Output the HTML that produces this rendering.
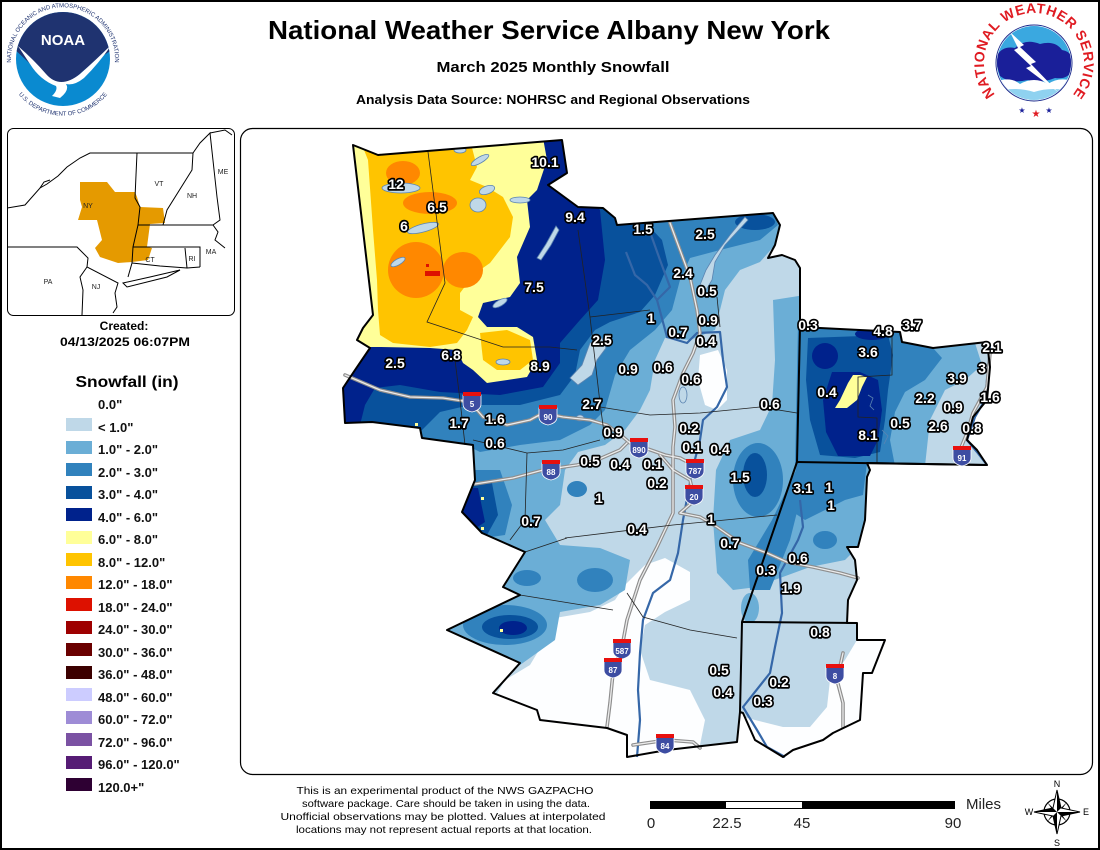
<!DOCTYPE html>
<html><head><meta charset="utf-8">
<style>
html,body{margin:0;padding:0;background:#fff;}
svg{display:block;}
text{font-family:"Liberation Sans",Arial,sans-serif;}
.lab{font-weight:bold;font-size:14px;fill:#fff;stroke:#000;stroke-width:3.4px;paint-order:stroke;stroke-linejoin:round;text-anchor:middle;}
.leg{font-weight:bold;font-size:13px;fill:#111;}
.sh{font-weight:bold;font-size:8px;fill:#fff;text-anchor:middle;}
.ins{font-size:7px;fill:#222;text-anchor:middle;}
</style></head><body>
<svg width="1100" height="850" viewBox="0 0 1100 850" xmlns="http://www.w3.org/2000/svg">
<defs>
<clipPath id="co"><path d="M353,145 L378,155 L562,140 L567,173 L548,185 L578,207 L603,208 L615,218 L617,225 L773,213 L780,225 L775,245 L768,258 L782,255 L795,260 L800,268 L800,327 L900,332 L902,342 L933,348 L987,342 L990,367 L987,400 L973,417 L967,440 L977,450 L987,465 L867,463 L870,470 L867,477 L865,520 L858,547 L847,547 L855,560 L857,580 L848,600 L847,623 L857,623 L857,640 L885,640 L872,673 L863,673 L860,720 L833,733 L823,740 L793,750 L783,757 L755,740 L743,713 L740,712 L737,742 L667,750 L627,757 L627,735 L607,728 L540,720 L537,710 L493,693 L520,663 L447,630 L520,595 L503,587 L525,552 L482,533 L462,512 L475,480 L473,445 L422,438 L420,428 L372,422 L345,423 L343,388 L355,370 L370,348 L357,340 L363,328 L373,315 Z"/></clipPath>
<clipPath id="ci"><rect x="8" y="129" width="226" height="186" rx="6"/></clipPath>
</defs>
<rect x="0" y="0" width="1100" height="850" fill="#fff"/>
<rect x="1" y="1" width="1098" height="848" fill="none" stroke="#000" stroke-width="2"/>

<!-- Header -->
<text x="549" y="39" font-size="26" font-weight="bold" text-anchor="middle" textLength="562" lengthAdjust="spacingAndGlyphs">National Weather Service Albany New York</text>
<text x="553" y="72" font-size="14.5" font-weight="bold" text-anchor="middle" textLength="233" lengthAdjust="spacingAndGlyphs">March 2025 Monthly Snowfall</text>
<text x="553" y="104" font-size="12.5" font-weight="bold" text-anchor="middle" textLength="394" lengthAdjust="spacingAndGlyphs">Analysis Data Source: NOHRSC and Regional Observations</text>

<!-- NOAA logo -->
<g>
<circle cx="63" cy="60" r="57" fill="#fff"/>
<clipPath id="cn"><circle cx="63" cy="59" r="47"/></clipPath>
<g clip-path="url(#cn)">
<rect x="10" y="5" width="110" height="110" fill="#0a8ad0"/>
<path d="M10,5 L120,5 L120,45 Q98,58 82,72 Q62,92 42,75 Q28,62 10,45 Z" fill="#1f3370"/>
<path d="M18,46 Q34,60 46,74 Q60,90 80,74 Q98,58 112,44 Q100,62 84,78 Q74,86 66,84 Q70,90 60,98 L52,96 Q58,90 56,86 Q40,80 30,64 Z" fill="#fff"/>
</g>
<text x="63" y="45" font-size="15" font-weight="bold" fill="#fff" text-anchor="middle">NOAA</text>
<path id="nt" d="M18.4,86 A52,52 0 1 1 107.6,86" fill="none"/>
<text font-size="6" fill="#1f3370"><textPath href="#nt" startOffset="50%" text-anchor="middle">NATIONAL OCEANIC AND ATMOSPHERIC ADMINISTRATION</textPath></text>
<path id="nb" d="M11,82 A57,57 0 0 0 115,82" fill="none"/>
<text font-size="6" fill="#1f3370"><textPath href="#nb" startOffset="50%" text-anchor="middle">U.S. DEPARTMENT OF COMMERCE</textPath></text>
</g>

<!-- NWS logo -->
<g>
<clipPath id="cw"><circle cx="1034" cy="63" r="37"/></clipPath>
<circle cx="1034" cy="63" r="38" fill="#fff" stroke="#1b2a8c" stroke-width="1"/>
<g clip-path="url(#cw)">
<rect x="995" y="25" width="80" height="80" fill="#3aa8e0"/>
<path d="M995,60 Q1000,45 1015,48 Q1025,38 1040,44 Q1055,40 1062,50 Q1075,52 1072,68 Q1070,80 1055,78 Q1040,84 1028,80 Q1010,84 1000,76 Z" fill="#1a1f99"/>
<path d="M995,82 Q1010,76 1020,84 Q1034,76 1048,84 Q1060,76 1075,82 L1075,105 L995,105 Z" fill="#fff"/>
<path d="M995,92 Q1015,86 1034,92 Q1052,86 1075,92 L1075,105 L995,105 Z" fill="#8fd2f0"/>
<path d="M1010,32 L1024,45 L1020,47 L1036,62 L1031,64 L1058,92 L1026,68 L1031,66 L1014,50 L1018,48 Z" fill="#fff"/>
</g>
<path id="wt" d="M1004,103 A50,50 0 1 1 1064,103" fill="none"/>
<text font-size="14" font-weight="bold" fill="#e01b22"><textPath href="#wt" startOffset="50%" text-anchor="middle" textLength="225" lengthAdjust="spacing">NATIONAL WEATHER SERVICE</textPath></text>
<text x="1022" y="113" font-size="8" fill="#1a1f99" text-anchor="middle">★</text>
<text x="1036" y="117" font-size="10" fill="#e01b22" text-anchor="middle">★</text>
<text x="1049" y="113" font-size="8" fill="#1a1f99" text-anchor="middle">★</text>
</g>

<!-- Inset map -->
<rect x="7.5" y="128.5" width="227" height="187" rx="6" fill="#fff" stroke="#000" stroke-width="1"/>
<g clip-path="url(#ci)">
<path d="M80,182 L107,182 L115,192 L135,192 L137,197 L140,207 L163,208 L165,223 L150,224 L147,247 L152,248 L148,260 L132,262 L118,263 L100,257 L95,248 L102,240 L97,220 L78,220 L82,207 L80,200 Z" fill="#e59a00"/>
<g fill="none" stroke="#000" stroke-width="1">
<path d="M7,208 L25,205 L40,188 L47,184 L58,176 L67,167 L80,158 L90,153 L137,153"/>
<path d="M137,153 L136,175 L135,198 L140,207 L138,225 L133,247 L132,263 L128,277"/>
<path d="M7,247 L77,247 L88,258 L87,267 L118,283 L115,293 L117,307 L113,313"/>
<path d="M87,267 L80,277 L83,290 L82,315"/>
<path d="M137,153 L193,153 L192,170 L167,210 L163,225"/>
<path d="M138,225 L213,225 L218,232 L215,240 L225,248"/>
<path d="M133,247 L200,247 L200,267"/>
<path d="M132,263 L160,266 L187,268 L200,267"/>
<path d="M185,248 L187,268"/>
<path d="M193,153 L200,143 L210,133 L217,197 L220,220 L213,225"/>
<path d="M210,133 L225,130 L232,135"/>
<path d="M123,283 L150,277 L180,270 L167,277 L127,287 Z" fill="#fff"/>
<path d="M40,188 L44,182 L50,180"/>
</g>
<text x="88" y="208" class="ins">NY</text>
<text x="159" y="186" class="ins">VT</text>
<text x="192" y="198" class="ins">NH</text>
<text x="223" y="174" class="ins">ME</text>
<text x="211" y="254" class="ins">MA</text>
<text x="192" y="261" class="ins">RI</text>
<text x="150" y="262" class="ins">CT</text>
<text x="48" y="284" class="ins">PA</text>
<text x="96" y="289" class="ins">NJ</text>
</g>
<text x="124" y="330" font-size="12" font-weight="bold" text-anchor="middle">Created:</text>
<text x="125" y="346" font-size="12" font-weight="bold" text-anchor="middle" textLength="130" lengthAdjust="spacingAndGlyphs">04/13/2025 06:07PM</text>

<!-- Legend -->
<text x="127" y="387" font-size="16" font-weight="bold" text-anchor="middle" textLength="103" lengthAdjust="spacingAndGlyphs">Snowfall (in)</text>
<g class="leg">
<text x="98" y="409">0.0"</text>
<rect x="66" y="418" width="26" height="13" fill="#bfd8e8"/><text x="98" y="432">&lt; 1.0"</text>
<rect x="66" y="441" width="26" height="13" fill="#6baed6"/><text x="98" y="454">1.0" - 2.0"</text>
<rect x="66" y="463" width="26" height="13" fill="#3182bd"/><text x="98" y="477">2.0" - 3.0"</text>
<rect x="66" y="486" width="26" height="13" fill="#08519c"/><text x="98" y="499">3.0" - 4.0"</text>
<rect x="66" y="508" width="26" height="13" fill="#00228c"/><text x="98" y="522">4.0" - 6.0"</text>
<rect x="66" y="531" width="26" height="13" fill="#ffff99"/><text x="98" y="544">6.0" - 8.0"</text>
<rect x="66" y="553" width="26" height="13" fill="#ffc400"/><text x="98" y="567">8.0" - 12.0"</text>
<rect x="66" y="576" width="26" height="13" fill="#ff8800"/><text x="98" y="589">12.0" - 18.0"</text>
<rect x="66" y="598" width="26" height="13" fill="#dd1100"/><text x="98" y="612">18.0" - 24.0"</text>
<rect x="66" y="621" width="26" height="13" fill="#9e0000"/><text x="98" y="634">24.0" - 30.0"</text>
<rect x="66" y="643" width="26" height="13" fill="#6a0000"/><text x="98" y="657">30.0" - 36.0"</text>
<rect x="66" y="666" width="26" height="13" fill="#3c0000"/><text x="98" y="679">36.0" - 48.0"</text>
<rect x="66" y="688" width="26" height="13" fill="#ccccff"/><text x="98" y="702">48.0" - 60.0"</text>
<rect x="66" y="711" width="26" height="13" fill="#9e8cd6"/><text x="98" y="724">60.0" - 72.0"</text>
<rect x="66" y="733" width="26" height="13" fill="#7b52a3"/><text x="98" y="747">72.0" - 96.0"</text>
<rect x="66" y="756" width="26" height="13" fill="#561c75"/><text x="98" y="769">96.0" - 120.0"</text>
<rect x="66" y="778" width="26" height="13" fill="#2e0033"/><text x="98" y="792">120.0+"</text>
</g>

<!-- Main frame -->
<rect x="240.5" y="128.5" width="852" height="646" rx="12" fill="#fff" stroke="#000" stroke-width="1.2"/>

<!-- Map fill layers -->
<g clip-path="url(#co)">
<rect x="330" y="130" width="680" height="640" fill="#bfd8e8"/>
<!-- white (0) -->
<g fill="#fdfeff">
<path d="M555,618 L590,612 L615,600 L625,585 L645,565 L665,558 L690,572 L690,600 L665,612 L645,625 L640,650 L650,680 L690,690 L705,720 L700,745 L627,757 L627,735 L607,728 L540,722 L495,697 L505,680 L530,665 L545,640 Z"/>
<path d="M743,717 L783,727 L810,727 L827,707 L830,680 L845,660 L857,640 L890,640 L875,680 L863,720 L833,740 L790,760 L755,745 Z"/>
<path d="M700,355 L718,350 L727,370 L727,400 L717,410 L705,405 L698,380 Z"/>
</g>
<!-- 1-2 -->
<g fill="#6baed6">
<path d="M330,140 L620,140 L620,213 L775,213 L780,225 L775,245 L760,262 L740,270 L725,290 L715,330 L690,340 L665,338 L655,360 L650,390 L640,410 L625,430 L605,445 L578,452 L565,470 L560,505 L545,520 L560,545 L600,548 L630,560 L625,590 L600,605 L560,612 L555,640 L520,665 L440,645 L440,440 L330,440 Z"/>
<path d="M773,300 L805,295 L805,462 L790,490 L775,540 L757,587 L733,590 L717,573 L713,520 L716,470 L730,440 L760,430 L772,405 L775,360 Z"/>
<path d="M798,325 L900,332 L902,342 L933,348 L975,343 L982,365 L965,380 L945,390 L930,420 L925,466 L795,466 Z"/>
<path d="M797,462 L870,462 L865,520 L858,547 L845,560 L810,567 L780,578 L760,585 L755,565 L770,520 L785,490 Z"/>
<ellipse cx="750" cy="608" rx="9" ry="15"/>
</g>
<!-- 2-3 -->
<g fill="#3182bd">
<path d="M330,140 L562,140 L570,175 L578,207 L603,208 L615,218 L617,225 L773,213 L778,225 L760,240 L720,250 L690,258 L680,280 L672,310 L655,330 L630,350 L615,375 L605,410 L590,425 L560,440 L520,445 L480,452 L470,447 L422,440 L330,440 Z"/>
<ellipse cx="758" cy="480" rx="25" ry="37"/>
<path d="M772,520 L800,462 L800,500 L790,540 L770,590 L750,590 L748,560 Z"/>
<path d="M798,325 L900,332 L902,342 L933,348 L942,358 L925,380 L905,392 L895,412 L890,440 L895,466 L795,466 Z"/>
<path d="M797,462 L867,463 L863,495 L845,500 L825,510 L805,520 L790,510 Z"/>
<ellipse cx="825" cy="540" rx="12" ry="9"/>
<ellipse cx="505" cy="625" rx="42" ry="20"/>
<path d="M455,470 L500,470 L512,505 L505,535 L470,540 L455,510 Z"/>
<ellipse cx="595" cy="580" rx="18" ry="12"/>
<ellipse cx="527" cy="578" rx="14" ry="8"/>
<ellipse cx="577" cy="489" rx="10" ry="8"/>
</g>
<!-- 3-4 -->
<g fill="#08519c">
<path d="M330,140 L570,140 L570,175 L600,205 L645,222 L662,240 L668,265 L655,295 L640,312 L610,322 L595,330 L580,350 L575,375 L560,395 L520,405 L470,405 L440,412 L420,432 L330,432 Z"/>
<ellipse cx="755" cy="222" rx="20" ry="8"/>
<ellipse cx="755" cy="475" rx="12" ry="22"/>
<path d="M808,338 L888,335 L893,355 L888,390 L885,420 L880,452 L855,458 L820,455 L810,420 L806,380 Z"/>
<ellipse cx="510" cy="627" rx="28" ry="12"/>
<path d="M455,480 L492,483 L498,515 L487,535 L455,520 Z"/>
</g>
<!-- 4-6 -->
<g fill="#00228c">
<path d="M330,140 L570,140 L570,175 L600,210 L605,260 L598,300 L580,320 L560,343 L560,363 L543,387 L500,395 L440,392 L400,385 L375,388 L365,405 L360,425 L330,425 Z"/>
<ellipse cx="825" cy="356" rx="13" ry="13"/>
<path d="M832,372 L860,372 L878,380 L882,410 L878,440 L870,456 L838,456 L826,432 L823,400 Z"/>
<ellipse cx="872" cy="334" rx="17" ry="6"/>
<ellipse cx="513" cy="628" rx="14" ry="7"/>
<path d="M455,487 L478,488 L485,522 L470,532 L455,515 Z"/>
</g>
<!-- 6-8 -->
<g fill="#ffff99">
<path d="M330,138 L543,138 L547,160 L537,190 L527,200 L530,227 L517,257 L520,283 L510,297 L483,303 L478,317 L487,327 L517,327 L533,337 L537,360 L527,377 L487,383 L473,370 L463,363 L457,350 L430,348 L380,347 L355,347 L330,340 Z"/>
<path d="M853,375 L860,375 L867,377 L862,387 L857,400 L847,408 L835,408 L840,400 L848,383 Z"/>
<rect x="481" y="497" width="3" height="3"/><rect x="481" y="527" width="3" height="3"/><rect x="500" y="629" width="3" height="3"/><rect x="415" y="423" width="3" height="3"/>
</g>
<!-- 8-12 -->
<g fill="#ffc400">
<path d="M360,140 L470,140 L477,167 L470,180 L487,187 L503,197 L513,217 L510,237 L500,250 L490,263 L480,270 L470,280 L460,293 L460,310 L473,317 L467,330 L457,343 L430,347 L393,343 L380,335 L378,310 L377,280 L373,230 L368,160 Z"/>
<path d="M480,333 L507,330 L530,340 L533,360 L520,370 L497,370 L483,360 Z"/>
</g>
<!-- 12-18 -->
<g fill="#ff8800">
<ellipse cx="403" cy="173" rx="17" ry="12"/>
<ellipse cx="430" cy="203" rx="27" ry="11"/>
<ellipse cx="416" cy="270" rx="28" ry="28"/>
<ellipse cx="463" cy="270" rx="20" ry="18"/>
</g>
<rect x="425" y="271" width="15" height="5" fill="#dd1100"/>
<rect x="426" y="264" width="3" height="3" fill="#dd1100"/>

<!-- lakes -->
<g fill="#bfd8e8" stroke="#5b84b1" stroke-width="0.8">
<ellipse cx="401" cy="188" rx="19" ry="5"/>
<ellipse cx="423" cy="228" rx="16" ry="4" transform="rotate(-15 423 228)"/>
<ellipse cx="398" cy="262" rx="8" ry="3" transform="rotate(-30 398 262)"/>
<ellipse cx="478" cy="205" rx="8" ry="7"/>
<ellipse cx="487" cy="190" rx="8" ry="4" transform="rotate(-20 487 190)"/>
<ellipse cx="520" cy="200" rx="10" ry="3"/>
<ellipse cx="480" cy="160" rx="10" ry="3" transform="rotate(-30 480 160)"/>
<ellipse cx="460" cy="150" rx="6" ry="3"/>
<path d="M556,226 L546,244 L537,258 L541,260 L551,245 L559,230 Z"/>
<ellipse cx="500" cy="303" rx="8" ry="3" transform="rotate(-30 500 303)"/>
<ellipse cx="503" cy="362" rx="7" ry="3"/>
<path d="M590,343 L602,338 L606,348 L597,360 L592,375 L578,385 L570,378 L582,365 Z"/>
<path d="M745,217 L748,220 L725,245 L715,262 L712,280 L706,290 L700,285 L706,270 L715,255 L730,235 Z"/>
<ellipse cx="683" cy="395" rx="4" ry="8"/>
<ellipse cx="580" cy="418" rx="4" ry="3"/>
<path d="M868,395 L873,398 L870,406 L874,410" fill="none"/>
<path d="M882,430 L888,436 L884,444" fill="none"/>
</g>
</g>

<!-- rivers -->
<g fill="none" stroke="#3567a8" stroke-width="2.2" stroke-linejoin="round">
<path d="M650,232 L660,260 L670,287 L657,300 L667,337 L687,343 L697,333 L720,332 L723,360 L727,387 L717,407 L703,420 L700,440 L693,467 L683,520 L678,553 L670,580 L653,593 L643,620 L640,653 L638,690 L640,720 L637,757"/>
<path d="M800,500 L803,527 L798,540 L780,573 L782,613 L775,647 L770,673 L743,707 L757,730 L767,747 L785,757"/>
<path d="M990,345 L988,370 L985,400 L975,417 L967,440 L977,452 L987,465"/>
<path d="M626,252 L635,275 L647,285 L657,300"/>
</g>

<!-- roads -->
<g fill="none" stroke-linejoin="round" stroke-linecap="round">
<g stroke="#8e8e8e" stroke-width="3.6">
<path d="M345,375 L380,390 L410,397 L443,398 L470,402 L483,417 L507,425 L530,420 L543,413 L563,417 L590,420 L607,425 L623,437 L630,443 L645,448 L665,455 L680,458 L695,466"/>
<path d="M475,484 L513,478 L543,470 L577,465 L597,460 L620,450 L627,443"/>
<path d="M670,223 L690,277 L697,310 L700,333 L693,353 L683,373 L673,400 L675,427 L673,447 L673,470 L673,513 L657,547 L640,580 L627,620 L622,647 L613,673 L610,703 L607,727"/>
<path d="M680,513 L700,517 L717,527 L740,543 L767,553 L787,562 L813,567 L840,573 L858,578"/>
<path d="M633,745 L667,740 L693,742 L700,748"/>
<path d="M843,653 L837,680 L843,703 L843,727"/>
<path d="M990,353 L987,387 L973,413 L967,433 L960,450"/>
<path d="M660,455 L673,470 L690,480 L695,500 L680,513"/>
</g>
<g stroke="#ececec" stroke-width="1.3">
<path d="M345,375 L380,390 L410,397 L443,398 L470,402 L483,417 L507,425 L530,420 L543,413 L563,417 L590,420 L607,425 L623,437 L630,443 L645,448 L665,455 L680,458 L695,466"/>
<path d="M475,484 L513,478 L543,470 L577,465 L597,460 L620,450 L627,443"/>
<path d="M670,223 L690,277 L697,310 L700,333 L693,353 L683,373 L673,400 L675,427 L673,447 L673,470 L673,513 L657,547 L640,580 L627,620 L622,647 L613,673 L610,703 L607,727"/>
<path d="M680,513 L700,517 L717,527 L740,543 L767,553 L787,562 L813,567 L840,573 L858,578"/>
<path d="M633,745 L667,740 L693,742 L700,748"/>
<path d="M843,653 L837,680 L843,703 L843,727"/>
<path d="M990,353 L987,387 L973,413 L967,433 L960,450"/>
<path d="M660,455 L673,470 L690,480 L695,500 L680,513"/>
</g>
</g>

<!-- county lines -->
<g fill="none" stroke="#222" stroke-width="0.8">
<path d="M428,152 L445,283 L427,322 L503,347 L550,347 L577,350"/>
<path d="M578,230 L590,317 L600,403 L605,440"/>
<path d="M590,317 L650,310"/>
<path d="M717,297 L720,327"/>
<path d="M600,407 L650,415 L700,413 L760,407 L797,413"/>
<path d="M565,538 L673,525 L777,515"/>
<path d="M627,593 L643,617 L690,630 L737,638"/>
<path d="M473,440 L527,453 L563,450 L600,440"/>
<path d="M892,331 L892,375 L858,377 L858,417 L877,418 L877,463"/>
<path d="M520,595 L613,610"/>
<path d="M525,552 L567,538"/>
<path d="M455,360 L460,400 L465,445"/>
<path d="M527,453 L525,520 L510,540"/>
</g>

<!-- state lines & outline -->
<g fill="none" stroke="#000" stroke-width="2" stroke-linejoin="round">
<path d="M800,268 L800,327 L797,462 L742,622 L740,712"/>
<path d="M742,622 L857,623"/>
<path d="M797,462 L987,465"/>
<path d="M353,145 L378,155 L562,140 L567,173 L548,185 L578,207 L603,208 L615,218 L617,225 L773,213 L780,225 L775,245 L768,258 L782,255 L795,260 L800,268 L800,327 L900,332 L902,342 L933,348 L987,342 L990,367 L987,400 L973,417 L967,440 L977,450 L987,465 L867,463 L870,470 L867,477 L865,520 L858,547 L847,547 L855,560 L857,580 L848,600 L847,623 L857,623 L857,640 L885,640 L872,673 L863,673 L860,720 L833,733 L823,740 L793,750 L783,757 L755,740 L743,713 L740,712 L737,742 L667,750 L627,757 L627,735 L607,728 L540,720 L537,710 L493,693 L520,663 L447,630 L520,595 L503,587 L525,552 L482,533 L462,512 L475,480 L473,445 L422,438 L420,428 L372,422 L345,423 L343,388 L355,370 L370,348 L357,340 L363,328 L373,315 Z"/>
</g>

<!-- shields -->
<g>
<defs><g id="shd"><path d="M-9,-6 L9,-6 L9,3 Q9,9 0,11 Q-9,9 -9,3 Z" fill="#3d4da2" stroke="#fff" stroke-width="0.8"/><rect x="-9" y="-9" width="18" height="4" fill="#e8100e"/></g></defs>
<use href="#shd" x="472" y="401"/><text class="sh" x="472" y="407">5</text>
<use href="#shd" x="548" y="414"/><text class="sh" x="548" y="420">90</text>
<use href="#shd" x="639" y="447"/><text class="sh" x="639" y="453" font-size="7">890</text>
<use href="#shd" x="551" y="469"/><text class="sh" x="551" y="475">88</text>
<use href="#shd" x="695" y="468"/><text class="sh" x="695" y="474" font-size="7">787</text>
<use href="#shd" x="694" y="494"/><text class="sh" x="694" y="500">20</text>
<use href="#shd" x="622" y="648"/><text class="sh" x="622" y="654" font-size="7">587</text>
<use href="#shd" x="613" y="667"/><text class="sh" x="613" y="673">87</text>
<use href="#shd" x="665" y="743"/><text class="sh" x="665" y="749">84</text>
<use href="#shd" x="835" y="673"/><text class="sh" x="835" y="679">8</text>
<use href="#shd" x="962" y="455"/><text class="sh" x="962" y="461">91</text>
</g>

<!-- labels -->
<g class="lab">
<text x="545" y="167">10.1</text><text x="396" y="189">12</text><text x="437" y="212">6.5</text><text x="404" y="231">6</text>
<text x="575" y="222">9.4</text><text x="643" y="234">1.5</text><text x="705" y="239">2.5</text><text x="683" y="278">2.4</text>
<text x="707" y="296">0.5</text><text x="534" y="292">7.5</text><text x="651" y="323">1</text><text x="708" y="325">0.9</text>
<text x="678" y="337">0.7</text><text x="706" y="346">0.4</text><text x="602" y="345">2.5</text><text x="451" y="360">6.8</text>
<text x="395" y="368">2.5</text><text x="540" y="371">8.9</text><text x="628" y="374">0.9</text><text x="663" y="372">0.6</text>
<text x="691" y="384">0.6</text><text x="592" y="409">2.7</text><text x="459" y="428">1.7</text><text x="495" y="424">1.6</text>
<text x="613" y="437">0.9</text><text x="689" y="433">0.2</text><text x="770" y="409">0.6</text><text x="808" y="330">0.3</text>
<text x="883" y="336">4.8</text><text x="912" y="330">3.7</text><text x="992" y="352">2.1</text><text x="868" y="357">3.6</text>
<text x="982" y="373">3</text><text x="957" y="383">3.9</text><text x="827" y="397">0.4</text><text x="925" y="403">2.2</text>
<text x="990" y="402">1.6</text><text x="953" y="412">0.9</text><text x="900" y="428">0.5</text><text x="938" y="431">2.6</text>
<text x="972" y="433">0.8</text><text x="868" y="440">8.1</text><text x="495" y="448">0.6</text><text x="692" y="452">0.1</text>
<text x="720" y="454">0.4</text><text x="590" y="466">0.5</text><text x="620" y="469">0.4</text><text x="653" y="469">0.1</text>
<text x="657" y="488">0.2</text><text x="740" y="482">1.5</text><text x="803" y="493">3.1</text><text x="829" y="492">1</text>
<text x="831" y="510">1</text><text x="599" y="503">1</text><text x="531" y="526">0.7</text><text x="637" y="534">0.4</text>
<text x="711" y="524">1</text><text x="730" y="548">0.7</text><text x="798" y="563">0.6</text><text x="766" y="575">0.3</text>
<text x="791" y="593">1.9</text><text x="820" y="637">0.8</text><text x="719" y="675">0.5</text><text x="723" y="697">0.4</text>
<text x="779" y="687">0.2</text><text x="763" y="706">0.3</text>
</g>

<!-- footer -->
<g font-size="10.5" text-anchor="middle" fill="#000">
<text x="445" y="794" textLength="297" lengthAdjust="spacingAndGlyphs">This is an experimental product of the NWS GAZPACHO</text>
<text x="446" y="807" textLength="288" lengthAdjust="spacingAndGlyphs">software package. Care should be taken in using the data.</text>
<text x="443" y="820" textLength="325" lengthAdjust="spacingAndGlyphs">Unofficial observations may be plotted. Values at interpolated</text>
<text x="444" y="833" textLength="296" lengthAdjust="spacingAndGlyphs">locations may not represent actual reports at that location.</text>
</g>
<rect x="650" y="801" width="305" height="8" fill="#000"/>
<rect x="726" y="802" width="76" height="6" fill="#fff"/>
<g font-size="15" fill="#222" text-anchor="middle">
<text x="651" y="828">0</text><text x="727" y="828">22.5</text><text x="802" y="828">45</text><text x="953" y="828">90</text>
</g>
<text x="966" y="809" font-size="15" fill="#222">Miles</text>

<!-- compass -->
<g>
<circle cx="1057" cy="812" r="13" fill="none" stroke="#000" stroke-width="1.2"/>
<polygon points="1057,812 1067,802 1060,812 1067,822 1057,812 1047,822 1054,812 1047,802" fill="#000"/>
<polygon points="1057,790 1061,808 1080,812 1061,816 1057,834 1053,816 1034,812 1053,808" fill="#fff" stroke="#000" stroke-width="1"/>
<polygon points="1057,790 1061,808 1057,812 1080,812 1061,816 1057,812 1057,834 1053,816 1057,812 1034,812 1053,808 1057,812" fill="#000"/>
<g font-family="Liberation Serif,serif" font-size="9" text-anchor="middle" fill="#000">
<text x="1057" y="787">N</text><text x="1057" y="846">S</text><text x="1029" y="815">W</text><text x="1086" y="815">E</text>
</g>
</g>
</svg>
</body></html>
